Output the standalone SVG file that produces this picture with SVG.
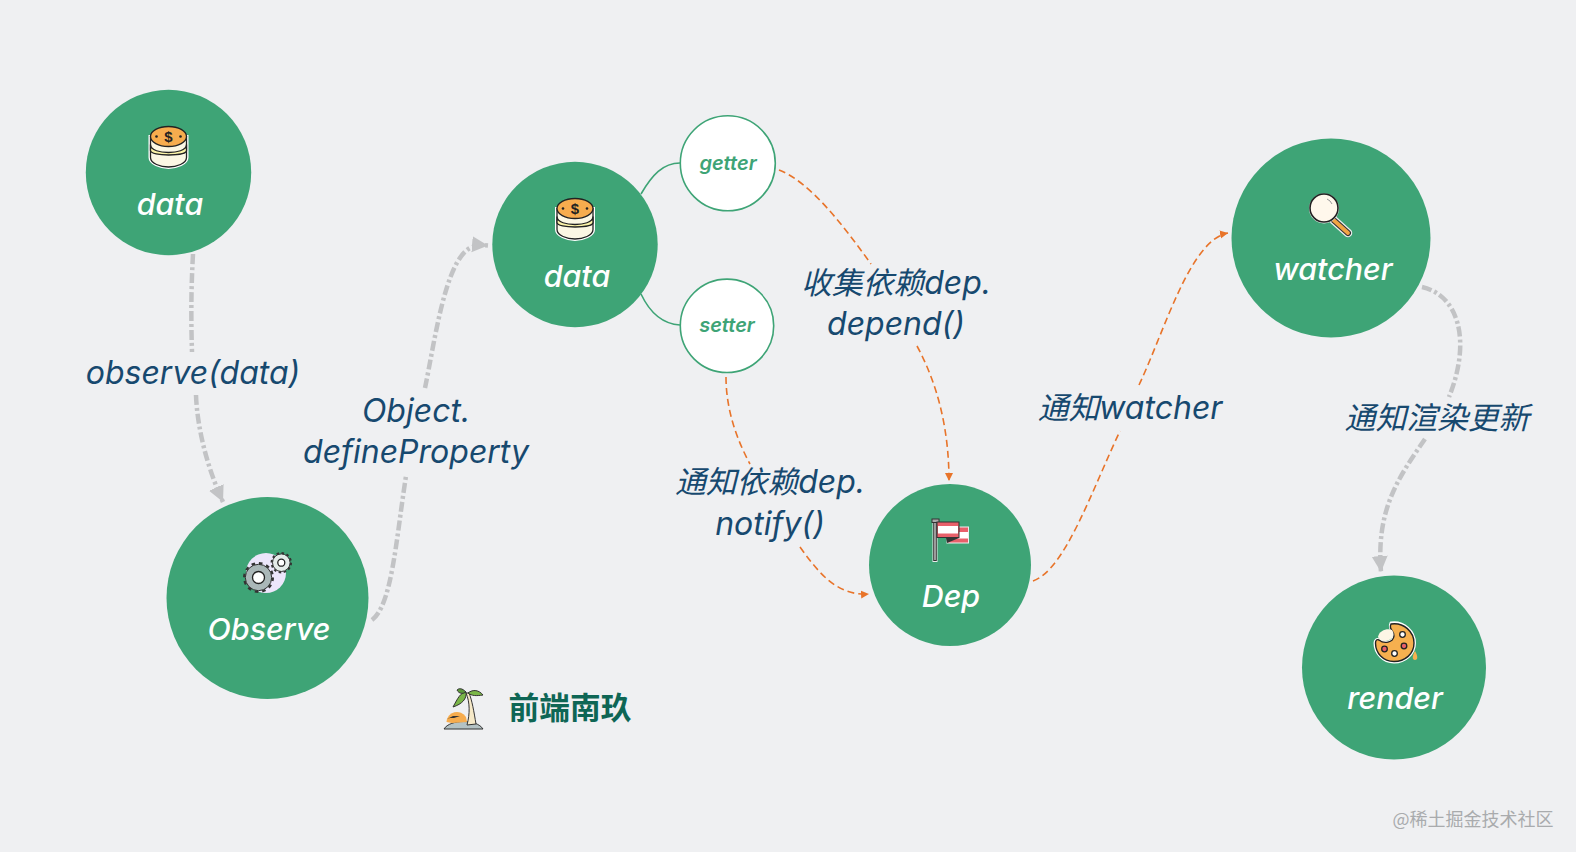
<svg xmlns="http://www.w3.org/2000/svg" width="1576" height="852" viewBox="0 0 1576 852">
<style>
.n{fill:#3ea476}
.w{fill:#fff;stroke:#3ea476;stroke-width:1.6}
.nt{font:italic 500 30.400px Inter,"Liberation Sans","Noto Sans CJK SC",sans-serif;fill:#fff;text-anchor:middle}
.st{font:italic 600 20px Inter,"Liberation Sans",sans-serif;fill:#3ea476;text-anchor:middle}
.lb{font:italic 32px Inter,"Liberation Sans","Noto Sans CJK SC",sans-serif;fill:#17496f;text-anchor:middle}
.cj{font-size:30.800px;letter-spacing:0}
.g{fill:none;stroke:#c2c3c5;stroke-width:4.500;stroke-dasharray:10 3 3 3}
.o{fill:none;stroke:#e8742a;stroke-width:1.600;stroke-dasharray:7 4}
.k{stroke:#222;stroke-width:1.300}
</style>
<defs>
<marker id="ga" markerUnits="userSpaceOnUse" markerWidth="18" markerHeight="18" refX="16" refY="9" orient="auto"><path d="M0 1L16 9L0 17Z" fill="#c2c3c5"/></marker>
<marker id="oa" markerUnits="userSpaceOnUse" markerWidth="9" markerHeight="9" refX="8" refY="4.500" orient="auto"><path d="M0 .5L8 4.500L0 8.500Z" fill="#e8742a"/></marker>
<g id="coins">
<path d="M-18.500 -7V14C-18.500 20 -8 24 0 24S18.500 20 18.500 14V-7Z" fill="#fff" stroke="#fff" stroke-width="3"/>
<path d="M-18 -7V14C-18 20 -8 23.500 0 23.500S18 20 18 14V-7Z" fill="#fbf7e4" class="k"/>
<path d="M-18 1C-18 7 -8 9 0 9S18 7 18 1V7C18 13 -18 13 -18 7Z" fill="#fbf3a8" class="k"/>
<ellipse cx="0" cy="-7" rx="18" ry="10" fill="#f6ac4e" class="k"/>
<text x="0" y="-1.500" font-family="Liberation Sans,sans-serif" font-size="15" font-weight="bold" fill="#222" text-anchor="middle">$</text>
<circle cx="-12" cy="-7" r="1.300" fill="#222"/><circle cx="12" cy="-7" r="1.300" fill="#222"/>
</g>
</defs>
<rect width="1576" height="852" fill="#eff0f2"/>
<g id="connectors">
<path class="g" d="M193 254C191 290 191 320 192 352"/>
<path class="g" marker-end="url(#ga)" d="M196 395C197 425 206 465 223 502"/>
<path class="g" d="M372 620C392 605 396 540 406 476"/>
<path class="g" marker-end="url(#ga)" d="M425 388C435 340 445 262 470 248C476 245 482 245 488 245.500"/>
<path d="M641 194C652 175 663 163 680 163" fill="none" stroke="#3ea476" stroke-width="1.600"/>
<path d="M641 294C650 313 663 324 680 325" fill="none" stroke="#3ea476" stroke-width="1.600"/>
<path class="o" d="M779 170C810 182 843 225 871 264"/>
<path class="o" marker-end="url(#oa)" d="M917 346C938 385 949 430 949 481"/>
<path class="o" d="M726 377C726 410 737 440 750 464"/>
<path class="o" marker-end="url(#oa)" d="M800 547C820 575 838 596 869 594"/>
<path class="o" d="M1033 581C1065 570 1092 490 1120 431"/>
<path class="o" marker-end="url(#oa)" d="M1139 385C1165 330 1190 240 1228 233"/>
<path class="g" d="M1422 287C1458 295 1472 340 1449 397"/>
<path class="g" marker-end="url(#ga)" d="M1425 439C1398 478 1376 510 1381 572"/>
</g>
<g id="node-data1"><circle class="n" cx="168.500" cy="172.500" r="82.700"/><use href="#coins" x="168.500" y="143.500"/><text class="nt" x="170" y="215">data</text></g>
<g id="node-observe"><circle class="n" cx="267.500" cy="598" r="101"/>
<circle cx="266" cy="573" r="20" fill="#ece6fb"/>
<circle cx="258.500" cy="577.500" r="14" fill="none" stroke="#333" stroke-width="3" stroke-dasharray="3.500 3.830"/><circle cx="258.500" cy="577.500" r="13.200" fill="#aab7b8" stroke="#333" stroke-width="1"/><circle cx="258.500" cy="577.500" r="6" fill="#fff" class="k"/>
<circle cx="281.300" cy="562.700" r="9.500" fill="none" stroke="#333" stroke-width="2.400" stroke-dasharray="2.500 2.470"/><circle cx="281.300" cy="562.700" r="8.800" fill="#e4ebe9" stroke="#333" stroke-width="1"/><circle cx="281.300" cy="562.700" r="3.500" fill="#fff" class="k"/>
<text class="nt" x="269" y="640">Observe</text></g>
<g id="node-data2"><circle class="n" cx="575" cy="244.500" r="82.700"/><use href="#coins" x="575" y="215.500"/><text class="nt" x="577" y="287">data</text></g>
<g id="node-getter"><circle class="w" cx="727.800" cy="163.300" r="47.500"/><text class="st" x="728" y="170">getter</text></g>
<g id="node-setter"><circle class="w" cx="727" cy="325.800" r="46.700"/><text class="st" x="727" y="332">setter</text></g>
<g id="node-dep"><circle class="n" cx="950" cy="565" r="81"/>
<path d="M935 520V562" stroke="#e8eaea" stroke-width="5"/><path d="M935 520V561" stroke="#333" stroke-width="3.600"/><path d="M935 523V560" stroke="#c9c9c9" stroke-width="1.400"/>
<rect x="932" y="519" width="7" height="3.500" fill="#aaa" stroke="#333"/>
<rect x="947" y="527" width="21.500" height="16" fill="#e8606a" stroke="#eee"/><rect x="948" y="532" width="20" height="6.500" fill="#fff"/>
<rect x="937" y="522" width="22" height="15.500" fill="#e8606a" stroke="#333"/><rect x="938" y="526" width="20" height="7.500" fill="#fff"/>
<path d="M946 538H959L947 543Z" fill="#333"/>
<text class="nt" x="951" y="607">Dep</text></g>
<g id="node-watcher"><circle class="n" cx="1331" cy="238" r="99.500"/>
<path d="M1333.500 220L1348 233" stroke="#eee" stroke-width="8.500" stroke-linecap="round"/>
<path d="M1333.500 220L1348 233" stroke="#333" stroke-width="6" stroke-linecap="round"/>
<path d="M1333.500 220L1348 233" stroke="#f2a444" stroke-width="3.800" stroke-linecap="round"/>
<circle cx="1324" cy="208.500" r="15" fill="#eee"/>
<circle cx="1324" cy="208" r="14" fill="#fff8ec" stroke="#222" stroke-width="1.600"/>
<path d="M1327 199A9.500 9.500 0 0 1 1332 204" fill="none" stroke="#999" stroke-width="1"/>
<text class="nt" x="1333" y="280">watcher</text></g>
<g id="node-render"><circle class="n" cx="1394" cy="667.500" r="92"/>
<path d="M1391 623C1404 621 1414.500 632 1414.500 643C1414.500 654 1405 662 1394 662C1383 662 1375 653 1375 643C1375 640 1377 639 1379 640C1384 644 1393 643 1394 636C1395 631 1388 630 1391 623Z" fill="#fff" stroke="#fff" stroke-width="3"/>
<path d="M1391 624C1404 622 1414 632 1414 643C1414 654 1405 661.500 1394 661.500C1383 661.500 1375.500 653 1375.500 643C1375.500 640 1377 639 1379 640C1384 644 1393 643 1394 636C1395 631 1388 630 1391 624Z" fill="#f6b04f" stroke="#222" stroke-width="1.400"/>
<path d="M1378 637C1379 630 1388 628 1392 630C1396 635 1391 641 1385 641C1381 641 1379 639 1378 637Z" fill="#fdf6e6"/>
<circle cx="1402.500" cy="634.500" r="2.800" fill="#fff" class="k"/><circle cx="1404" cy="646" r="2.800" fill="#e8606a" class="k"/><circle cx="1394.500" cy="653.500" r="2.800" fill="#fff" class="k"/><circle cx="1384.500" cy="649" r="2.800" fill="#e8606a" class="k"/>
<path d="M1415 651C1412 656 1412 660 1415 660S1418 656 1415 651Z" fill="#f6b04f"/>
<text class="nt" x="1395" y="709">render</text></g>
<g id="labels">
<text class="lb" x="193" y="384">observe(data)</text>
<text class="lb" x="416" y="422">Object.</text>
<text class="lb" x="416" y="463">defineProperty</text>
<text class="lb" x="896" y="294"><tspan class="cj">收集依赖</tspan>dep.</text>
<text class="lb" x="896" y="335">depend()</text>
<text class="lb" x="770" y="493"><tspan class="cj">通知依赖</tspan>dep.</text>
<text class="lb" x="770" y="535">notify()</text>
<text class="lb" x="1130" y="419"><tspan class="cj">通知</tspan>watcher</text>
<text class="lb" x="1437" y="429"><tspan class="cj">通知渲染更新</tspan></text>
</g>
<g id="brand">
<path d="M444 729C450 719 477 719 483 729Z" fill="#b4c2c4" stroke="#333" stroke-width="1"/>
<path d="M446.500 722A10.500 10.500 0 0 1 466 717L467 722L452 723Z" fill="#f6ac4e"/>
<path d="M466 693C470 702 470 714 467 725L476 724C474 712 472 700 469 693Z" fill="#f6e9c8" stroke="#333" stroke-width="1"/>
<path d="M466 692C460 693 458 698 453 707C462 704 467 699 466 692Z" fill="#7ab648" stroke="#333" stroke-width="1"/>
<path d="M466 692C462 688 459 688 457 690C459 694 463 694 466 692Z" fill="#5d9a3c" stroke="#333" stroke-width="1"/>
<path d="M468 693C473 689 479 690 483 695C476 696 472 696 468 693Z" fill="#7ab648" stroke="#333" stroke-width="1"/>
<path d="M447 719L453 716L460 716L454 718L450 718Z" fill="#333"/>
<text x="570" y="719" font-family="'Noto Sans CJK SC',sans-serif" font-size="30.700" font-weight="700" fill="#0e6655" text-anchor="middle">前端南玖</text>
</g>
<text x="1473" y="826" font-family="'Noto Sans CJK SC',sans-serif" font-size="18" fill="#a9abad" text-anchor="middle">@稀土掘金技术社区</text>
</svg>
